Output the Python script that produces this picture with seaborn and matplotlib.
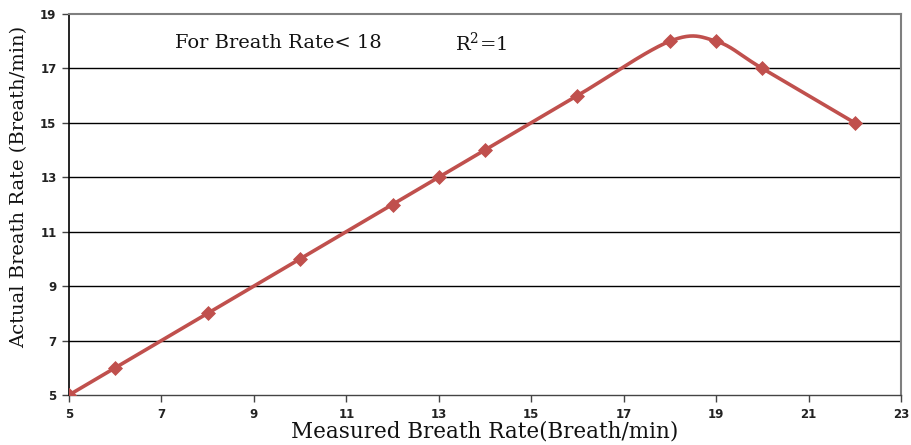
import numpy as np
import pandas as pd
import matplotlib
matplotlib.use("Agg")
import matplotlib.pyplot as plt
import seaborn as sns

# Measured vs. actual breath rate (breaths per minute)
measured = [5, 6, 8, 10, 12, 13, 14, 16, 18, 19, 20, 22]
actual = [5, 6, 8, 10, 12, 13, 14, 16, 18, 18, 17, 15]
x_ticks = [5, 7, 9, 11, 13, 15, 17, 19, 21, 23]
y_ticks = [5, 7, 9, 11, 13, 15, 17, 19]

LINE_COLOR = "#C0504D"


def smooth_bezier(xs, ys, n=40):
    """Cardinal-spline smoothing through the points (spreadsheet style)."""
    xs = np.asarray(xs, float)
    ys = np.asarray(ys, float)
    px, py = [], []
    m = len(xs)
    for i in range(m - 1):
        x0, y0 = (xs[i - 1], ys[i - 1]) if i > 0 else (xs[i], ys[i])
        x1, y1 = xs[i], ys[i]
        x2, y2 = xs[i + 1], ys[i + 1]
        x3, y3 = (xs[i + 2], ys[i + 2]) if i + 2 < m else (xs[i + 1], ys[i + 1])
        c1x, c1y = x1 + (x2 - x0) / 6, y1 + (y2 - y0) / 6
        c2x, c2y = x2 - (x3 - x1) / 6, y2 - (y3 - y1) / 6
        t = np.linspace(0, 1, n)
        a, b, c, d = (1 - t) ** 3, 3 * t * (1 - t) ** 2, 3 * t ** 2 * (1 - t), t ** 3
        px.extend(a * x1 + b * c1x + c * c2x + d * x2)
        py.extend(a * y1 + b * c1y + c * c2y + d * y2)
    return np.array(px), np.array(py)


sns.set_theme(style="white")
plt.rcParams["font.family"] = ["DejaVu Serif"]
plt.rcParams["mathtext.fontset"] = "dejavuserif"

df = pd.DataFrame({"measured": measured, "actual": actual})
sx, sy = smooth_bezier(measured, actual)
curve = pd.DataFrame({"measured": sx, "actual": sy})

fig = plt.figure(figsize=(9.11, 4.45), dpi=100)
ax = fig.add_axes([69 / 911, 50 / 445, 832 / 911, 381 / 445])

for yv in y_ticks[1:-1]:
    ax.axhline(yv, color="black", lw=1.0, zorder=1)

sns.lineplot(data=curve, x="measured", y="actual", sort=False, ax=ax,
             color=LINE_COLOR, lw=2.6, zorder=3)
sns.scatterplot(data=df, x="measured", y="actual", ax=ax, marker="D",
                s=50, color=LINE_COLOR, edgecolor=LINE_COLOR, zorder=4)

ax.set_xlim(5, 23)
ax.set_ylim(5, 19)
ax.set_xticks(x_ticks)
ax.set_yticks(y_ticks)
ax.set_xticklabels([str(v) for v in x_ticks], fontsize=8.5, fontweight="bold",
                   family="DejaVu Sans", color="#222222")
ax.set_yticklabels([str(v) for v in y_ticks], fontsize=8.5, fontweight="bold",
                   family="DejaVu Sans", color="#222222")
ax.tick_params(axis="both", direction="out", length=5, width=1, color="#444444",
               bottom=True, left=True, pad=4)

for side in ["top", "right"]:
    ax.spines[side].set_color("#7f7f7f")
    ax.spines[side].set_linewidth(1.5)
ax.spines["left"].set_color("black")
ax.spines["left"].set_linewidth(1.2)
ax.spines["bottom"].set_color("#444444")
ax.spines["bottom"].set_linewidth(1.0)

ax.set_xlabel("Measured Breath Rate(Breath/min)", fontsize=15.5, color="#111111", labelpad=0)
ax.set_ylabel("Actual Breath Rate (Breath/min)", fontsize=14, color="#111111")
ax.yaxis.set_label_coords(-0.049, 0.546)

ax.text(7.3, 17.93, "For Breath Rate< 18", fontsize=14, va="center", ha="left", color="#111111")
ax.text(13.35, 17.93, r"R$^{2}$=1", fontsize=14, va="center", ha="left", color="#111111")

fig.savefig("out.png", dpi=100)
